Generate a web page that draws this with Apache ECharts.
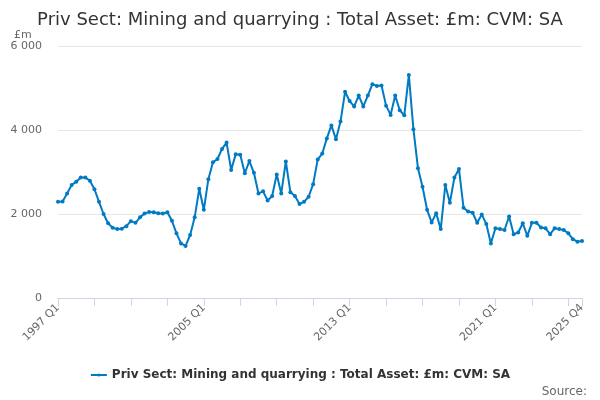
<!DOCTYPE html>
<html>
<head>
<meta charset="utf-8">
<script src="https://cdn.jsdelivr.net/npm/echarts@6/dist/echarts.min.js"></script>
<style>
  html, body { margin: 0; padding: 0; background: #fff; }
  #app { width: 600px; height: 400px; }
</style>
</head>
<body>
<div id="app"></div>
<script>
const seriesName = 'Priv Sect: Mining and quarrying : Total Asset: £m: CVM: SA'

// quarters 1997 Q1 .. 2025 Q4
const years = []
for (let y = 1997; y <= 2025; y++) years.push(y)
const quarters = []
years.forEach(y => ['Q1', 'Q2', 'Q3', 'Q4'].forEach(q => quarters.push(y + ' ' + q)))

const values = [
  2290, 2300, 2490, 2690, 2770, 2870, 2870, 2790, 2590, 2290,
  2000, 1780, 1670, 1640, 1650, 1710, 1830, 1790, 1920, 2010,
  2050, 2040, 2020, 2010, 2040, 1840, 1540, 1300, 1240, 1500,
  1920, 2600, 2100, 2830, 3230, 3310, 3550, 3700, 3050, 3420,
  3410, 2970, 3260, 2980, 2490, 2540, 2320, 2430, 2940, 2490,
  3250, 2520, 2430, 2240, 2290, 2410, 2710, 3300, 3440, 3800,
  4110, 3780, 4200, 4910, 4690, 4560, 4820, 4560, 4820, 5090,
  5050, 5060, 4580, 4360, 4820, 4470, 4350, 5310, 4020, 3090,
  2650, 2100, 1800, 2020, 1640, 2690, 2270, 2870, 3070, 2150,
  2060, 2030, 1790, 1990, 1760, 1300, 1660, 1640, 1620, 1940,
  1520, 1560, 1780, 1480, 1790, 1790, 1680, 1660, 1520, 1660,
  1640, 1620, 1540, 1400, 1340, 1360
]

const yTicks = [0, 2000, 4000, 6000]

const font = 'DejaVu Sans'
const last = quarters.length - 1

const chart = echarts.init(document.getElementById('app'))

chart.setOption({
  animation: false,
  textStyle: { fontFamily: font },
  title: [
    {
      text: seriesName,
      left: 'center',
      top: 6,
      textStyle: { fontSize: 18, fontWeight: 'normal', color: '#333333', fontFamily: font }
    },
    {
      text: '£m',
      left: 9,
      top: 25,
      textStyle: { fontSize: 11, fontWeight: 'normal', color: '#666666', fontFamily: font }
    },
    {
      text: 'Source:',
      right: 8,
      top: 381,
      textStyle: { fontSize: 12, fontWeight: 'normal', color: '#666666', fontFamily: font }
    }
  ],
  legend: {
    bottom: 14,
    left: 'center',
    itemWidth: 16,
    itemHeight: 4,
    textStyle: { fontSize: 12, fontWeight: 'bold', color: '#333333', fontFamily: font },
    data: [seriesName]
  },
  grid: { left: 58, right: 18, top: 46, bottom: 102 },
  xAxis: {
    type: 'category',
    data: quarters,
    boundaryGap: false,
    axisLine: { lineStyle: { color: '#ccd6eb' } },
    axisTick: {
      length: 8,
      lineStyle: { color: '#ccd6eb' },
      interval: (i) => i % 8 === 0 || i === last
    },
    axisLabel: {
      rotate: 45,
      fontSize: 11,
      color: '#666666',
      margin: 8,
      interval: (i) => i % 32 === 0 || i === last
    },
    splitLine: { show: false }
  },
  yAxis: {
    type: 'value',
    min: yTicks[0],
    max: yTicks[yTicks.length - 1],
    interval: 2000,
    axisLine: { show: false },
    axisTick: { show: false },
    axisLabel: {
      fontSize: 11,
      color: '#666666',
      margin: 16,
      formatter: (v) => String(v).replace(/\B(?=(\d{3})+(?!\d))/g, ' ')
    },
    splitLine: { lineStyle: { color: '#e6e6e6' } }
  },
  series: [
    {
      name: seriesName,
      type: 'line',
      data: values,
      symbol: 'circle',
      symbolSize: 4,
      showAllSymbol: true,
      lineStyle: { color: '#007ac3', width: 2 },
      itemStyle: { color: '#007ac3' }
    }
  ]
})
</script>
</body>
</html>
